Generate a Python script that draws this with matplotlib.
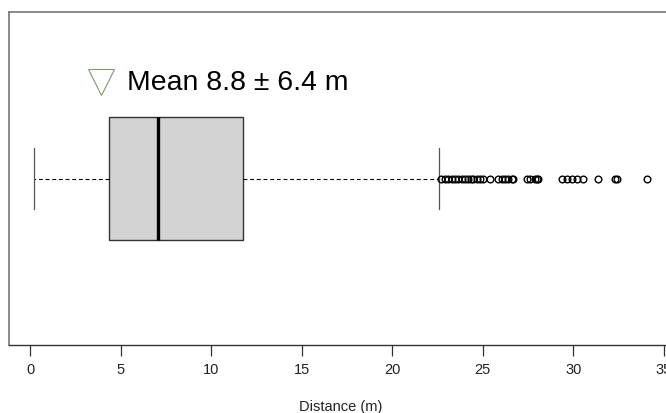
import numpy as np
import matplotlib.pyplot as plt
from matplotlib import font_manager

# Distance summary (m)
dist_q1 = 4.37
dist_median = 7.08
dist_q3 = 11.73
dist_whislo = 0.2
dist_whishi = 22.6
dist_outliers = [22.71, 22.9, 23.08, 23.27, 23.45, 23.63, 23.82, 24.0, 24.19,
                 24.32, 24.46, 24.65, 24.83, 25.02, 25.39, 25.85, 26.03, 26.22,
                 26.4, 26.59, 26.68, 27.42, 27.6, 27.88, 27.97, 28.06, 29.35,
                 29.63, 29.9, 30.18, 30.55, 31.38, 32.3, 32.39, 34.05]
dist_mean = 8.8
dist_sd = 6.4
xticks = [0, 5, 10, 15, 20, 25, 30, 35]

names = {f.name for f in font_manager.fontManager.ttflist}
tick_font = "Liberation Sans Narrow" if "Liberation Sans Narrow" in names else "Liberation Sans"
plt.rcParams["font.family"] = ["Liberation Sans", "DejaVu Sans"]

fig = plt.figure(figsize=(6.66, 4.14), dpi=100)
ax = fig.add_axes([9 / 666, 68 / 414, 664 / 666, 333 / 414])

stats = [dict(med=dist_median, q1=dist_q1, q3=dist_q3,
              whislo=dist_whislo, whishi=dist_whishi, fliers=dist_outliers)]
ax.bxp(stats, positions=[1], widths=0.4, orientation="horizontal",
       patch_artist=True, showfliers=True,
       boxprops=dict(facecolor="#d3d3d3", edgecolor="#333333", linewidth=1.0),
       medianprops=dict(color="black", linewidth=2.4, solid_capstyle="butt"),
       whiskerprops=dict(color="black", linewidth=0.8, linestyle=(0, (3.5, 2.5))),
       capprops=dict(color="#555555", linewidth=0.9),
       capwidths=0.2,
       flierprops=dict(marker="o", markersize=4.8, markerfacecolor="none",
                       markeredgecolor="black", markeredgewidth=1.0))

ax.set_xlim(-1.17, 35.5)
ax.set_ylim(0.46, 1.54)
ax.set_yticks([])
ax.set_xticks(xticks)
ax.set_xticklabels([str(t) for t in xticks], fontfamily=tick_font, fontsize=10.5)
ax.tick_params(axis="x", length=8, width=0.9, color="#333333", pad=4, labelcolor="#222222")
ax.set_xlabel("Distance (m)", fontfamily=tick_font, fontsize=10.5, color="#222222", labelpad=17)

for side in ["top", "left"]:
    ax.spines[side].set_color("#777777")
    ax.spines[side].set_linewidth(1.2)
ax.spines["bottom"].set_color("#333333")
ax.spines["bottom"].set_linewidth(1.0)
ax.spines["right"].set_visible(False)

# Mean ± SD legend
ax.plot([0.139], [0.79], marker="v", markersize=19, markerfacecolor="none",
        markeredgecolor="#7a9a72", markeredgewidth=0.8, transform=ax.transAxes,
        clip_on=False)
ax.text(0.178, 0.79, f"Mean {dist_mean} ± {dist_sd} m", transform=ax.transAxes,
        fontsize=20.4, va="center", ha="left", color="black")

plt.savefig("out.png", dpi=100)
